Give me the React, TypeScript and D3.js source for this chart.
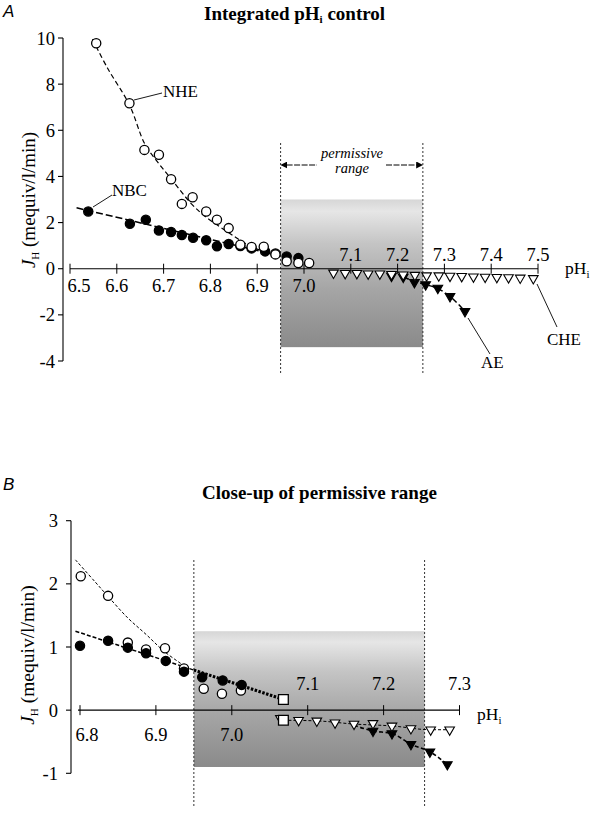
import React from "react";
import * as d3 from "d3";

// ---------- Data ----------
type P = [number, number];

// Panel A
const nheA: P[] = [
  [6.556, 9.77], [6.627, 7.17], [6.659, 5.15], [6.69, 4.94], [6.716, 3.88],
  [6.739, 2.81], [6.762, 3.1], [6.791, 2.48], [6.814, 2.12], [6.839, 1.76],
  [6.864, 1.04], [6.888, 0.94], [6.914, 0.95], [6.939, 0.62], [6.963, 0.32],
  [6.988, 0.25], [7.011, 0.25],
];
const nbcA: P[] = [
  [6.539, 2.48], [6.628, 1.95], [6.662, 2.12], [6.69, 1.66], [6.716, 1.59],
  [6.739, 1.46], [6.763, 1.34], [6.791, 1.23], [6.814, 0.97], [6.839, 1.07],
  [6.864, 0.98], [6.888, 0.88], [6.917, 0.75], [6.939, 0.66], [6.963, 0.53],
  [6.988, 0.46],
];
const cheA: P[] = [
  [7.063, -0.18], [7.088, -0.2], [7.113, -0.2], [7.137, -0.22], [7.162, -0.22],
  [7.187, -0.24], [7.212, -0.26], [7.237, -0.28], [7.262, -0.3], [7.288, -0.3],
  [7.312, -0.32], [7.337, -0.33], [7.362, -0.35], [7.387, -0.36], [7.412, -0.37],
  [7.437, -0.38], [7.462, -0.4], [7.49, -0.42],
];
const aeA: P[] = [
  [7.187, -0.32], [7.212, -0.36], [7.236, -0.59], [7.26, -0.69],
  [7.286, -0.84], [7.312, -1.2], [7.344, -1.85],
];
const nheCurveA: P[] = [
  [6.548, 9.95], [6.58, 8.7], [6.627, 7.1], [6.66, 5.4], [6.69, 4.55],
  [6.716, 3.9], [6.76, 2.8], [6.79, 2.25], [6.84, 1.55], [6.87, 1.15],
  [6.9, 0.85], [6.94, 0.6],
];
const nbcLineA: P[] = [[6.514, 2.64], [6.94, 0.6]];
const aeLineA: P[] = [[7.212, -0.36], [7.236, -0.55], [7.26, -0.69], [7.286, -0.86], [7.312, -1.2], [7.344, -1.85]];

// Panel B
const nheB: P[] = [
  [6.801, 2.12], [6.837, 1.81], [6.863, 1.07], [6.887, 0.96], [6.912, 0.98],
  [6.937, 0.66], [6.963, 0.34], [6.987, 0.26], [7.012, 0.31],
];
const nbcB: P[] = [
  [6.8, 1.02], [6.837, 1.1], [6.863, 0.99], [6.887, 0.9], [6.913, 0.78],
  [6.937, 0.61], [6.961, 0.52], [6.988, 0.47], [7.013, 0.4],
];
const cheB: P[] = [
  [7.064, -0.13], [7.088, -0.16], [7.112, -0.17], [7.136, -0.2], [7.161, -0.22],
  [7.186, -0.21], [7.211, -0.25], [7.236, -0.29], [7.262, -0.31], [7.287, -0.31],
];
const aeB: P[] = [
  [7.186, -0.33], [7.211, -0.37], [7.236, -0.54], [7.261, -0.66], [7.284, -0.86],
];
const squaresB: P[] = [[7.068, 0.17], [7.068, -0.16]];
const nheCurveB: P[] = [
  [6.794, 2.38], [6.82, 2.03], [6.837, 1.8], [6.863, 1.46], [6.887, 1.2],
  [6.912, 0.92], [6.945, 0.64],
];
const nbcLineB: P[] = [[6.794, 1.25], [6.95, 0.635]];
const nbcBoldB: P[] = [[6.95, 0.635], [7.068, 0.17]];
const cheLineB: P[] = [[7.068, -0.16], [7.112, -0.17], [7.161, -0.22], [7.211, -0.25], [7.262, -0.31], [7.29, -0.31]];
const aeLineB: P[] = [[7.161, -0.24], [7.186, -0.33], [7.211, -0.37], [7.236, -0.54], [7.261, -0.66], [7.284, -0.86]];

// Permissive range and shading
const permissive: [number, number] = [6.95, 7.254];
const shadeA: [number, number] = [3.0, -3.4];
const shadeB: [number, number] = [1.25, -0.9];

// Ticks
const xTicksA = [6.5, 6.6, 6.7, 6.8, 6.9, 7.0, 7.1, 7.2, 7.3, 7.4, 7.5];
const yTicksA = [-4, -2, 0, 2, 4, 6, 8, 10];
const xTicksB = [6.8, 6.9, 7.0, 7.1, 7.2, 7.3];
const yTicksB = [-1, 0, 1, 2, 3];

const SERIF = "'Liberation Serif', 'Times New Roman', serif";
const SANS = "'Liberation Sans', Arial, sans-serif";

// ---------- Helpers ----------
type Sc = d3.ScaleLinear<number, number>;

function Circles({ data, x, y, filled, r = 4.6 }: { data: P[]; x: Sc; y: Sc; filled: boolean; r?: number }) {
  return (
    <g>
      {data.map((d, i) => (
        <circle key={i} cx={x(d[0])} cy={y(d[1])} r={r}
          fill={filled ? "#000" : "#fff"} stroke="#000" strokeWidth={1.3} />
      ))}
    </g>
  );
}

const triPath = d3.symbol(d3.symbolTriangle, 40)()!;
const sqPath = d3.symbol(d3.symbolSquare, 95)()!;

function Tris({ data, x, y, filled }: { data: P[]; x: Sc; y: Sc; filled: boolean }) {
  return (
    <g>
      {data.map((d, i) => (
        <path key={i} d={triPath}
          transform={`translate(${x(d[0])},${y(d[1])}) rotate(180)`}
          fill={filled ? "#000" : "#fff"} stroke="#000" strokeWidth={1.1} />
      ))}
    </g>
  );
}

function Squares({ data, x, y }: { data: P[]; x: Sc; y: Sc }) {
  return (
    <g>
      {data.map((d, i) => (
        <path key={i} d={sqPath} transform={`translate(${x(d[0])},${y(d[1])})`}
          fill="#fff" stroke="#000" strokeWidth={1.3} />
      ))}
    </g>
  );
}

function Line({ data, x, y, dash, width, curve = d3.curveMonotoneX }: { data: P[]; x: Sc; y: Sc; dash: string; width: number; curve?: d3.CurveFactory }) {
  const g = d3.line<P>().x(d => x(d[0])).y(d => y(d[1])).curve(curve);
  return <path d={g(data)!} fill="none" stroke="#000" strokeWidth={width} strokeDasharray={dash} />;
}

export default function App() {
  // Panel A scales
  const xA = d3.scaleLinear().domain([6.5, 7.5]).range([70, 538]);
  const yA = d3.scaleLinear().domain([-4, 10]).range([361, 38]);
  const axXA = 63;
  // Panel B scales
  const xB = d3.scaleLinear().domain([6.8, 7.3]).range([80, 459.5]);
  const yB = d3.scaleLinear().domain([-1, 3]).range([773.3, 520.7]);
  const axXB = 71;

  const fmt = d3.format(".1f");

  return (
    <svg width={592} height={813} style={{ position: "absolute", left: 0, top: 0, background: "#fff" }}
      fontFamily={SERIF}>
      <defs>
        <linearGradient id="shadeGrad" x1="0" y1="0" x2="0" y2="1">
          <stop offset="0%" stopColor="#d6d6d6" />
          <stop offset="8%" stopColor="#e6e6e6" />
          <stop offset="30%" stopColor="#c4c4c4" />
          <stop offset="60%" stopColor="#a6a6a6" />
          <stop offset="100%" stopColor="#8a8a8a" />
        </linearGradient>
        <marker id="arrL" viewBox="0 0 10 10" refX="1" refY="5" markerWidth="7" markerHeight="7" orient="auto-start-reverse">
          <path d="M0,0 L10,5 L0,10 Z" fill="#000" />
        </marker>
      </defs>
      <rect x={0} y={0} width={592} height={813} fill="#fff" />

      {/* ================= Panel A ================= */}
      <text x={3} y={17} fontFamily={SANS} fontStyle="italic" fontSize={17}>A</text>
      <text x={204} y={20} fontWeight="bold" fontSize={19}>
        Integrated pH<tspan dy={3} fontSize={11}>i</tspan><tspan dy={-3}> control</tspan>
      </text>

      {/* shading */}
      <rect x={xA(permissive[0])} y={yA(shadeA[0])} width={xA(permissive[1]) - xA(permissive[0])}
        height={yA(shadeA[1]) - yA(shadeA[0])} fill="url(#shadeGrad)" />
      {/* range dashed lines */}
      {permissive.map((p, i) => (
        <line key={i} x1={xA(p)} x2={xA(p)} y1={143} y2={373} stroke="#333" strokeWidth={1} strokeDasharray="2,2" />
      ))}
      {/* arrows */}
      <line x1={xA(permissive[0]) + 6} x2={317} y1={165} y2={165} stroke="#000" strokeWidth={1} strokeDasharray="6,1.5" markerStart="url(#arrL)" />
      <line x1={386} x2={xA(permissive[1]) - 6} y1={165} y2={165} stroke="#000" strokeWidth={1} strokeDasharray="6,1.5" markerEnd="url(#arrL)" />
      <text x={352} y={158} textAnchor="middle" fontStyle="italic" fontSize={14.5}>permissive</text>
      <text x={352} y={173} textAnchor="middle" fontStyle="italic" fontSize={14.5}>range</text>

      {/* y axis */}
      <line x1={axXA} x2={axXA} y1={yA(10)} y2={yA(-4)} stroke="#000" strokeWidth={1.1} />
      {yTicksA.map(t => (
        <g key={t}>
          <line x1={axXA - 5} x2={axXA} y1={yA(t)} y2={yA(t)} stroke="#000" strokeWidth={1.1} />
          <text x={axXA - 8} y={yA(t) + 6.5} textAnchor="end" fontSize={18.5}>{t}</text>
        </g>
      ))}
      {/* x axis */}
      <line x1={xA(6.5)} x2={xA(7.5)} y1={yA(0)} y2={yA(0)} stroke="#000" strokeWidth={1.1} />
      {xTicksA.map(t => (
        <g key={t}>
          <line x1={xA(t)} x2={xA(t)} y1={yA(0) - 5} y2={yA(0) + 5} stroke="#000" strokeWidth={1} />
          <text x={xA(t) + (t === 6.5 ? 9 : 0)} y={t <= 7.0 ? yA(0) + 23 : yA(0) - 8} textAnchor="middle" fontSize={18.5}>{fmt(t)}</text>
        </g>
      ))}
      <text x={565} y={274} fontSize={17.5}>pH<tspan dy={4} fontSize={11}>i</tspan></text>
      <text transform={`translate(35,200) rotate(-90)`} textAnchor="middle" fontSize={19}>
        <tspan fontStyle="italic">J</tspan><tspan dy={4} fontSize={11}>H</tspan><tspan dy={-4}> (mequiv/l/min)</tspan>
      </text>

      {/* lines */}
      <Line data={nheCurveA} x={xA} y={yA} dash="5,3" width={1.2} curve={d3.curveCatmullRom} />
      <Line data={nbcLineA} x={xA} y={yA} dash="7,3" width={1.5} curve={d3.curveLinear} />
      <Line data={aeLineA} x={xA} y={yA} dash="6,3" width={1.5} />

      {/* markers */}
      <Circles data={nbcA} x={xA} y={yA} filled />
      <Circles data={nheA} x={xA} y={yA} filled={false} />
      <Tris data={aeA} x={xA} y={yA} filled />
      <Tris data={cheA} x={xA} y={yA} filled={false} />

      {/* labels */}
      <line x1={134} y1={100} x2={162} y2={93} stroke="#000" strokeWidth={0.9} />
      <text x={163} y={97} fontSize={17}>NHE</text>
      <line x1={93} y1={207} x2={112} y2={195} stroke="#000" strokeWidth={0.9} />
      <text x={112} y={196} fontSize={17}>NBC</text>
      <line x1={468} y1={318} x2={490} y2={354} stroke="#000" strokeWidth={0.9} />
      <text x={481} y={368} fontSize={17}>AE</text>
      <line x1={537} y1={284} x2={557} y2={327} stroke="#000" strokeWidth={0.9} />
      <text x={547} y={345} fontSize={17}>CHE</text>

      {/* ================= Panel B ================= */}
      <text x={3} y={490} fontFamily={SANS} fontStyle="italic" fontSize={17}>B</text>
      <text x={202} y={499} fontWeight="bold" fontSize={19}>Close-up of permissive range</text>

      <rect x={xB(permissive[0])} y={yB(shadeB[0])} width={xB(permissive[1]) - xB(permissive[0])}
        height={yB(shadeB[1]) - yB(shadeB[0])} fill="url(#shadeGrad)" />
      {permissive.map((p, i) => (
        <line key={i} x1={xB(p)} x2={xB(p)} y1={560} y2={806} stroke="#333" strokeWidth={1} strokeDasharray="2,2" />
      ))}

      <line x1={axXB} x2={axXB} y1={yB(3)} y2={yB(-1)} stroke="#000" strokeWidth={1.1} />
      {yTicksB.map(t => (
        <g key={t}>
          <line x1={axXB - 5} x2={axXB} y1={yB(t)} y2={yB(t)} stroke="#000" strokeWidth={1.1} />
          <text x={axXB - 13} y={yB(t) + 6.5} textAnchor="end" fontSize={18.5}>{t}</text>
        </g>
      ))}
      <line x1={xB(6.8) - 2} x2={xB(7.3)} y1={yB(0)} y2={yB(0)} stroke="#000" strokeWidth={1.1} />
      {xTicksB.map(t => (
        <g key={t}>
          <line x1={xB(t)} x2={xB(t)} y1={yB(0) - 5} y2={yB(0) + 5} stroke="#000" strokeWidth={1} />
          <text x={xB(t) + (t === 6.8 ? 7 : 0)} y={t <= 7.0 ? yB(0) + 31 : yB(0) - 20} textAnchor="middle" fontSize={18.5}>{fmt(t)}</text>
        </g>
      ))}
      <text x={477} y={720} fontSize={17.5}>pH<tspan dy={4} fontSize={11}>i</tspan></text>
      <text transform={`translate(34,655) rotate(-90)`} textAnchor="middle" fontSize={19.5}>
        <tspan fontStyle="italic">J</tspan><tspan dy={4} fontSize={11}>H</tspan><tspan dy={-4}> (mequiv/l/min)</tspan>
      </text>

      <Line data={nheCurveB} x={xB} y={yB} dash="3,2" width={1} curve={d3.curveCatmullRom} />
      <Line data={nbcLineB} x={xB} y={yB} dash="4,2" width={1.5} curve={d3.curveLinear} />
      <Line data={nbcBoldB} x={xB} y={yB} dash="2.5,1.5" width={3} curve={d3.curveLinear} />
      <Line data={cheLineB} x={xB} y={yB} dash="3,2" width={1} />
      <Line data={aeLineB} x={xB} y={yB} dash="4,2.5" width={1.6} />

      <Circles data={nheB} x={xB} y={yB} filled={false} />
      <Circles data={nbcB} x={xB} y={yB} filled />
      <Tris data={aeB} x={xB} y={yB} filled />
      <Tris data={cheB} x={xB} y={yB} filled={false} />
      <Squares data={squaresB} x={xB} y={yB} />
    </svg>
  );
}
